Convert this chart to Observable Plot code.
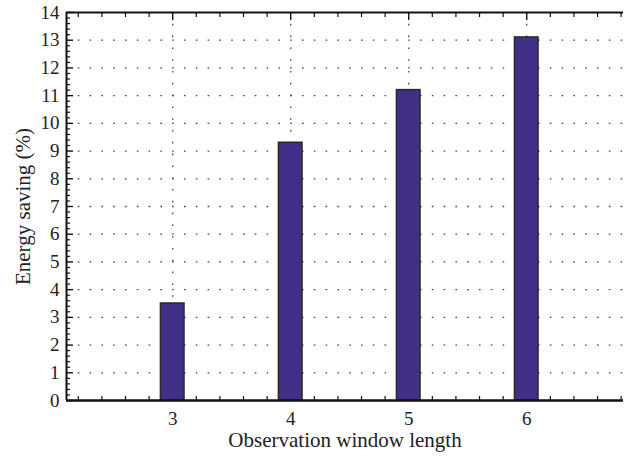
<!DOCTYPE html>
<html>
<head>
<meta charset="utf-8">
<script src="https://cdn.jsdelivr.net/npm/d3@7"></script>
<script src="https://cdn.jsdelivr.net/npm/@observablehq/plot@0.6"></script>
<style>
  body { margin: 0; background: #fff; }
</style>
</head>
<body>
<div id="chart"></div>
<script>
// Energy saving for each observation window length
const windowLengths = [3, 4, 5, 6];
const energySaving = [3.5, 9.3, 11.2, 13.1];

const yTicks = d3.range(0, 15);
const yGrid = d3.range(1, 14);
const yMinor = d3.range(0, 71).map(i => i / 5).filter(v => !Number.isInteger(v));
const xMinor = d3.range(11, 35).map(i => i / 5).filter(v => !Number.isInteger(v));

const xTitle = "Observation window length";
const yTitle = "Energy saving (%)";

const data = windowLengths.map((x, i) => ({x, value: energySaving[i]}));

const dotted = {stroke: "#444", strokeWidth: 1.3, strokeDasharray: "1.6,10.2"};
const ink = "#222";

const chart = Plot.plot({
  width: 624,
  height: 458,
  marginLeft: 66,
  marginTop: 12,
  marginBottom: 58,
  marginRight: 1,
  style: {fontFamily: "Liberation Serif, serif", color: ink, background: "#fff"},
  x: {domain: [2.1, 6.82], label: null, axis: null},
  y: {domain: [0, 14], label: null, axis: null},
  marks: [
    // dotted grid
    Plot.ruleY(yGrid, dotted),
    Plot.ruleX(windowLengths, dotted),
    // bars
    Plot.rectY(data, {
      x1: d => d.x - 0.1,
      x2: d => d.x + 0.1,
      y: "value",
      fill: "#412f88",
      stroke: "#2a2a2a",
      strokeWidth: 1.5
    }),
    // frame edges
    Plot.ruleY([0], {stroke: "#111", strokeWidth: 2.6}),
    Plot.ruleY([14], {stroke: "#111", strokeWidth: 2}),
    Plot.ruleX([2.1], {stroke: "#111", strokeWidth: 2}),
    // inward tick marks
    Plot.axisY({ticks: yTicks, anchor: "left", tickSize: 7, dx: 7, text: null, label: null, strokeWidth: 1.4, stroke: "#111"}),
    Plot.axisY({ticks: yMinor, anchor: "left", tickSize: 4, dx: 4, text: null, label: null, strokeWidth: 1.2, stroke: "#111"}),
    Plot.axisX({ticks: windowLengths, anchor: "top", tickSize: 7, dy: 7, text: null, label: null, strokeWidth: 1.4, stroke: "#111"}),
    Plot.axisX({ticks: xMinor, anchor: "top", tickSize: 4, dy: 4, text: null, label: null, strokeWidth: 1.2, stroke: "#111"}),
    Plot.axisX({ticks: xMinor, anchor: "bottom", tickSize: 4, dy: -4, text: null, label: null, strokeWidth: 1.2, stroke: "#111"}),
    // tick labels
    Plot.text(yTicks, {x: 2.1, y: d => d, text: d => String(d), textAnchor: "end", dx: -7, fill: ink, fontSize: 19}),
    Plot.text(windowLengths, {x: d => d, y: 0, text: d => String(d), lineAnchor: "top", dy: 11, fill: ink, fontSize: 19}),
    // axis titles
    Plot.text([xTitle], {frameAnchor: "bottom", textAnchor: "middle", dy: 46, text: d => d, fill: ink, fontSize: 21}),
    Plot.text([yTitle], {frameAnchor: "left", textAnchor: "middle", dx: -43, rotate: -90, text: d => d, fill: ink, fontSize: 21})
  ]
});

document.getElementById("chart").appendChild(chart);
</script>
</body>
</html>
